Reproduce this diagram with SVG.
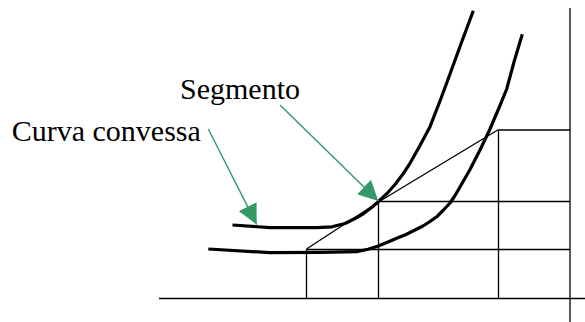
<svg xmlns="http://www.w3.org/2000/svg" width="585" height="322" viewBox="0 0 585 322">
<style>
.grid{stroke:#000;stroke-width:1.3;fill:none}
.curve{stroke:#000;stroke-width:3.2;fill:none;stroke-linecap:butt;stroke-linejoin:round}
.arrow{stroke:#339966;stroke-width:1.4;fill:none}
.lbl{font-family:"Liberation Serif","Times New Roman",serif;font-size:30px;fill:#000}
</style>
<defs>
<marker id="ah" markerUnits="userSpaceOnUse" markerWidth="22" markerHeight="20" refX="20" refY="10" orient="auto">
<path d="M0,0 L20,10 L0,20 Z" fill="#339966"/>
</marker>
</defs>
<rect width="585" height="322" fill="#fff"/>
<g id="axes">
<line class="grid" x1="159" y1="298.5" x2="585" y2="298.5"/>
<line class="grid" x1="570" y1="8" x2="570" y2="322"/>
</g>
<g id="grid">
<line class="grid" x1="498.5" y1="130" x2="570" y2="130"/>
<line class="grid" x1="378.5" y1="201.5" x2="570" y2="201.5"/>
<line class="grid" x1="306.5" y1="249.5" x2="570" y2="249.5"/>
<line class="grid" x1="306.5" y1="249.5" x2="306.5" y2="298.5"/>
<line class="grid" x1="378.5" y1="201.5" x2="378.5" y2="298.5"/>
<line class="grid" x1="498.5" y1="130" x2="498.5" y2="298.5"/>
</g>
<g id="segment">
<polyline class="grid" points="306.5,249 378.5,202 498.5,129.5"/>
</g>
<g id="curve-upper">
<polyline class="curve" points="232.5,225 270,227.6 316.7,227.7 332,226.8 345,223.5 355,218.5 363.3,213.8 371,208 378.3,201.7 387,193.5 395,184.5 403,174 410,163.3 420,145.5 430,126.7 440,101 446.7,83 460,46.5 473.3,10.7"/>
</g>
<g id="curve-lower">
<polyline class="curve" points="208.3,249 270,252.6 320,252.4 356.7,251.7 368,249.2 378.3,246 388,242 396.7,238.3 406,234.5 415,230 423,226 430,221.5 437,216.5 443,210.5 450,203 455,195.5 460,187 470,169.5 480,150 490,129 500,105.5 506.7,89 514,62 522.3,34.3"/>
</g>
<g id="connectors">
<line class="arrow" x1="208.3" y1="129" x2="256.7" y2="224.5" marker-end="url(#ah)"/>
<line class="arrow" x1="280" y1="105" x2="378.3" y2="201" marker-end="url(#ah)"/>
</g>
<g id="label-segmento">
<text class="lbl" x="180" y="99.3">Segmento</text>
</g>
<g id="label-curva">
<text class="lbl" x="11.7" y="140.7">Curva convessa</text>
</g>
</svg>
